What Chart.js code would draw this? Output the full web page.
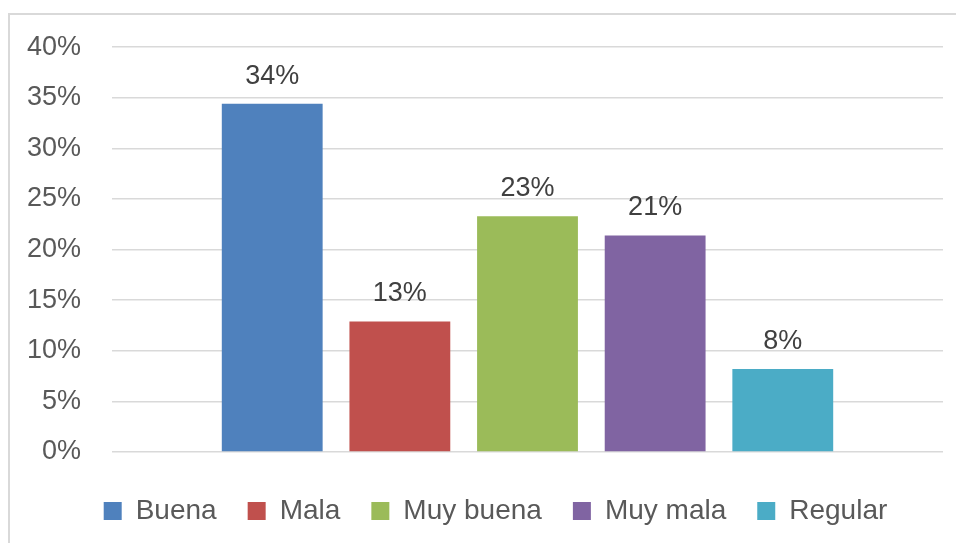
<!DOCTYPE html>
<html lang="es">
<head>
    <meta charset="UTF-8">
    <title>Valoración</title>
    <style>
        body {
            margin: 0;
            background: #fff;
        }
        .wrap {
            position: relative;
            width: 956px;
            height: 543px;
            overflow: hidden;
        }
        .frame {
            position: absolute;
            left: 8px;
            top: 13px;
            width: 1000px;
            height: 600px;
            border-top: 2px solid #d9d9d9;
            border-left: 2px solid #d9d9d9;
        }
        canvas {
            position: absolute;
            left: 0;
            top: 0;
        }
    </style>
</head>
<body>
    <div class="wrap">
        <div class="frame"></div>
        <canvas id="chart" width="956" height="543"></canvas>
    </div>

    <script src="https://cdn.jsdelivr.net/npm/chart.js"></script>
    <script>
        const seriesNames = ['Buena', 'Mala', 'Muy buena', 'Muy mala', 'Regular'];
        const seriesValues = [34.4, 12.9, 23.3, 21.4, 8.2];
        const seriesColors = ['#4f81bd', '#c0504d', '#9bbb59', '#8064a2', '#4bacc6'];
        const yTicks = [0, 5, 10, 15, 20, 25, 30, 35, 40];

        const fontFamily = "'Liberation Sans', Arial, sans-serif";
        const textColor = '#595959';

        const datasets = seriesNames.map((name, i) => ({
            label: name,
            data: [seriesValues[i]],
            backgroundColor: seriesColors[i],
            categoryPercentage: 0.768,
            barPercentage: 0.79
        }));

        // etiquetas encima de cada barra
        const barLabels = {
            id: 'barLabels',
            afterDatasetsDraw(chart) {
                const ctx = chart.ctx;
                ctx.save();
                ctx.font = '27px ' + fontFamily;
                ctx.fillStyle = '#404040';
                ctx.textAlign = 'center';
                ctx.textBaseline = 'alphabetic';
                chart.data.datasets.forEach((ds, i) => {
                    const bar = chart.getDatasetMeta(i).data[0];
                    ctx.fillText(Math.round(ds.data[0]) + '%', bar.x, bar.y - 20);
                });
                ctx.restore();
            }
        };

        // la leyenda va algo más a la derecha, como en Excel
        const legendShift = {
            id: 'legendShift',
            afterLayout(chart) {
                if (chart.legend) {
                    chart.legend.left += 19;
                    chart.legend.right += 19;
                }
            }
        };

        const ctx = document.getElementById('chart').getContext('2d');
        new Chart(ctx, {
            type: 'bar',
            data: {
                labels: [''],
                datasets: datasets
            },
            options: {
                responsive: false,
                animation: false,
                layout: {
                    padding: { left: 10, right: 13, top: 46, bottom: 8 }
                },
                plugins: {
                    legend: {
                        position: 'bottom',
                        labels: {
                            boxWidth: 18,
                            boxHeight: 18,
                            padding: 31,
                            color: textColor,
                            font: { family: fontFamily, size: 28 }
                        }
                    },
                    tooltip: { enabled: false }
                },
                scales: {
                    x: {
                        grid: { display: false },
                        border: { display: false },
                        ticks: { display: false },
                        afterFit(scale) {
                            scale.height = 14;
                        }
                    },
                    y: {
                        min: 0,
                        max: 40,
                        afterBuildTicks(scale) {
                            scale.ticks = yTicks.map(v => ({ value: v }));
                        },
                        afterFit(scale) {
                            scale.width = 102;
                        },
                        grid: {
                            color: '#d9d9d9',
                            lineWidth: 1.5,
                            drawTicks: false
                        },
                        border: { display: false },
                        ticks: {
                            padding: 31,
                            color: textColor,
                            font: { family: fontFamily, size: 27 },
                            callback: v => v + '%'
                        }
                    }
                }
            },
            plugins: [barLabels, legendShift]
        });
    </script>
</body>
</html>
